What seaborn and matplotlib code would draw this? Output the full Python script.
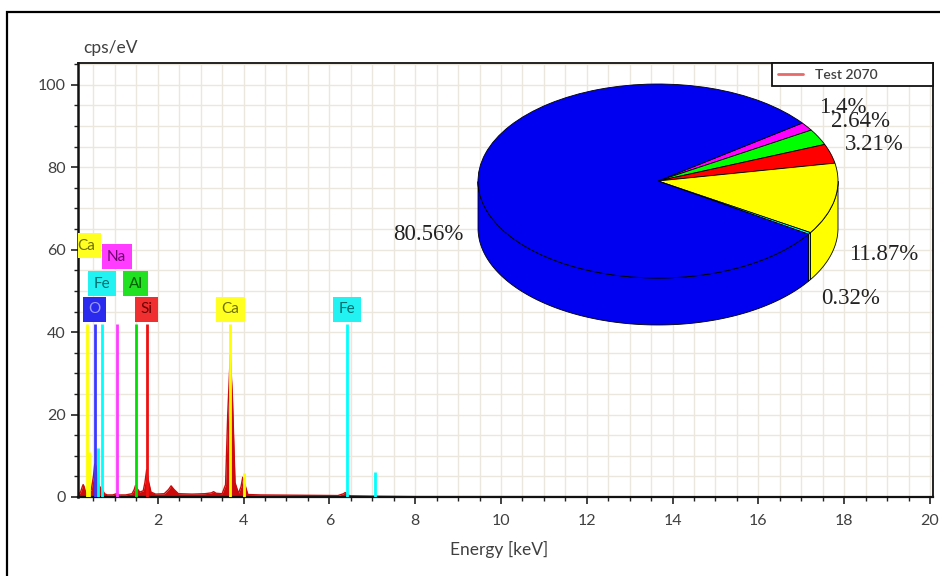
import numpy as np
import pandas as pd
import matplotlib
matplotlib.use("Agg")
import matplotlib.pyplot as plt
from matplotlib.patches import Rectangle
from matplotlib.ticker import MultipleLocator
import seaborn as sns

# EDX spectrum
energy = [0.14, 0.20, 0.24, 0.26, 0.28, 0.32, 0.38, 0.45, 0.50, 0.53, 0.56, 0.59, 0.63, 0.68,
          0.72, 0.76, 0.82, 0.95, 1.04, 1.10, 1.25, 1.40, 1.45, 1.48, 1.52, 1.58, 1.66, 1.70,
          1.74, 1.78, 1.84, 1.95, 2.15, 2.25, 2.31, 2.38, 2.48, 2.80, 3.10, 3.25, 3.30, 3.36,
          3.50, 3.58, 3.63, 3.69, 3.74, 3.80, 3.88, 3.94, 3.98, 4.03, 4.10, 4.40, 5.00, 5.60,
          6.20, 6.33, 6.37, 6.42, 6.50, 7.00, 7.50, 8.00, 20.0]
counts = [0.5, 1.2, 2.5, 3.0, 2.6, 1.0, 0.8, 1.8, 5.0, 8.0, 7.5, 4.5, 2.8, 2.0,
          1.5, 0.8, 0.5, 0.5, 0.8, 0.5, 0.5, 0.8, 1.8, 2.8, 2.0, 1.2, 1.5, 3.5,
          6.6, 4.0, 1.2, 0.7, 0.8, 1.8, 2.7, 1.8, 0.8, 0.7, 0.8, 1.0, 1.3, 0.9,
          0.8, 3.0, 20.0, 34.5, 24.0, 3.5, 0.9, 2.5, 4.8, 3.0, 0.6, 0.5, 0.45, 0.4,
          0.35, 0.8, 1.1, 0.5, 0.3, 0.2, 0.15, 0.1, 0.05]

# element marker lines
line_energy = [0.341, 0.40, 0.525, 0.615, 0.705, 1.041, 1.487, 1.740, 3.691, 4.013, 6.404, 7.058]
line_height = [42, 11, 42, 12, 42, 42, 42, 42, 42, 5.8, 42, 6]
line_color = ['#ffff00', '#ffff00', '#3a3aff', '#00ffff', '#00ffff', '#ff3cff',
              '#00e000', '#ee1010', '#ffff00', '#ffff00', '#00ffff', '#00ffff']

# element labels
label_text = ['Ca', 'Na', 'Fe', 'Al', 'O', 'Si', 'Ca', 'Fe']
label_energy = [0.341, 1.041, 0.705, 1.487, 0.525, 1.740, 3.691, 6.404]
label_level = [61.0, 58.3, 51.7, 51.7, 45.6, 45.6, 45.6, 45.6]
label_face = ['#ffff22', '#ff3cff', '#22f2f2', '#22e022', '#2a2aee', '#f03030', '#ffff22', '#22f2f2']
label_ink = ['#6f6f00', '#6f006f', '#006f6f', '#006000', '#9a9aff', '#700000', '#6f6f00', '#006f6f']

# pie inset
pie_pct = [1.4, 2.64, 3.21, 11.87, 0.32, 80.56]
pie_labels = ['1.4%', '2.64%', '3.21%', '11.87%', '0.32%', '80.56%']
pie_colors = ['#ff00ff', '#00ff00', '#ff0000', '#ffff00', '#00ffff', '#0000f0']

W, H = 940, 576
sns.set_theme(style="white")
plt.rcParams['font.family'] = ['Lato', 'DejaVu Sans']

fig = plt.figure(figsize=(W / 100, H / 100), dpi=100)


def px_box(left, top, right, bottom):
    return [left / W, 1 - bottom / H, (right - left) / W, (bottom - top) / H]


ax = fig.add_axes(px_box(78, 63, 933, 497))
ax.set_facecolor('white')

df = pd.DataFrame({'energy': energy, 'counts': counts})
ax.fill_between(df.energy, 0, df.counts, color='#cc0a0a', lw=0, zorder=2)
sns.lineplot(data=df, x='energy', y='counts', color='#cc0a0a', lw=1.0, ax=ax,
             label='Test 2070', zorder=2.1)

ax.vlines(line_energy, 0, line_height, colors=line_color, lw=2.0, zorder=3)

for txt, e, lv, fc, ink in zip(label_text, label_energy, label_level, label_face, label_ink):
    ax.text(e, lv, txt, ha='center', va='center', fontsize=11, color=ink, zorder=4,
            clip_on=True,
            bbox=dict(boxstyle='square,pad=0.36', fc=fc, ec='none'))

ax.set_xlim(0.14, 20.07)
ax.set_ylim(0, 105.3)
ax.xaxis.set_major_locator(MultipleLocator(2))
ax.xaxis.set_minor_locator(MultipleLocator(0.5))
ax.yaxis.set_major_locator(MultipleLocator(20))
ax.yaxis.set_minor_locator(MultipleLocator(5))
ax.grid(which='both', color='#ebe7dd', lw=1.0, zorder=0)
ax.set_axisbelow(True)
ax.tick_params(which='both', direction='out', colors='#222222', labelcolor='#404040',
               labelsize=11.5, bottom=True, left=True)
ax.tick_params(which='major', length=5, width=1.2)
ax.tick_params(which='minor', length=3, width=1.0)
ax.tick_params(axis='x', pad=7)
ax.tick_params(axis='y', pad=4)
for side, lw in {'left': 1.8, 'bottom': 1.6, 'top': 1.3, 'right': 1.3}.items():
    ax.spines[side].set_visible(True)
    ax.spines[side].set_color('#111111')
    ax.spines[side].set_linewidth(lw)

ax.set_xlabel('Energy [keV]', fontsize=12.5, color='#404040')
ax.xaxis.set_label_coords(0.492, -0.102)
ax.set_ylabel('cps/eV', fontsize=12.5, color='#404040', rotation=0, ha='left', va='center')
ax.yaxis.set_label_coords(0.006, 1.035)

leg = ax.legend(loc='upper left', bbox_to_anchor=(0.8117, 0.938, 0.1883, 0.062), mode='expand',
                borderaxespad=0, fancybox=False, framealpha=1, edgecolor='#111111',
                fontsize=10, handlelength=1.8, handletextpad=0.9, borderpad=0.4)
leg.get_frame().set_linewidth(1.3)
leg.get_lines()[0].set_color('#e66a6a')
leg.get_lines()[0].set_linewidth(2)
for t in leg.get_texts():
    t.set_color('#404040')
    t.set_fontweight('semibold')

# 3-D looking pie in an inset
cx, cy, rx, ry, depth_px = 658, 181, 180, 97, 47
depth = depth_px / ry
m = 0.03
pax = fig.add_axes(px_box(cx - rx * (1 + m), cy - ry * (1 + m), cx + rx * (1 + m), cy + ry * (1 + m + depth)))
wedges, texts = pax.pie(pie_pct, colors=pie_colors, labels=pie_labels, startangle=36.7,
                        counterclock=False, labeldistance=1.08,
                        wedgeprops=dict(edgecolor='black', linewidth=0.6),
                        textprops=dict(fontsize=16.5, family=['Liberation Serif'], color='#222222'))
for w in wedges:
    t = np.radians(np.linspace(w.theta1, w.theta2, 300))
    keep = np.sin(t) <= 0
    if keep.sum() < 2:
        continue
    t = t[keep]
    xs = np.concatenate([np.cos(t), np.cos(t[::-1])])
    ys = np.concatenate([np.sin(t), np.sin(t[::-1]) - depth])
    pax.fill(xs, ys, facecolor=w.get_facecolor(), edgecolor='black', lw=0.6, zorder=0.5)
for t in texts:
    x, y = t.get_position()
    if y < 0:
        t.set_y(y * 1.2 - depth - 0.03)
    else:
        t.set_y(y * 1.25)
pax.set_aspect('auto')
pax.set_xlim(-1 - m, 1 + m)
pax.set_ylim(-1 - m - depth, 1 + m)
pax.set_facecolor('none')
pax.axis('off')

fig.add_artist(Rectangle((7 / W, -0.05), 1.0, 1.05 - 12 / H, transform=fig.transFigure,
                         fill=False, ec='black', lw=1.6))

fig.savefig('out.png', dpi=100)
